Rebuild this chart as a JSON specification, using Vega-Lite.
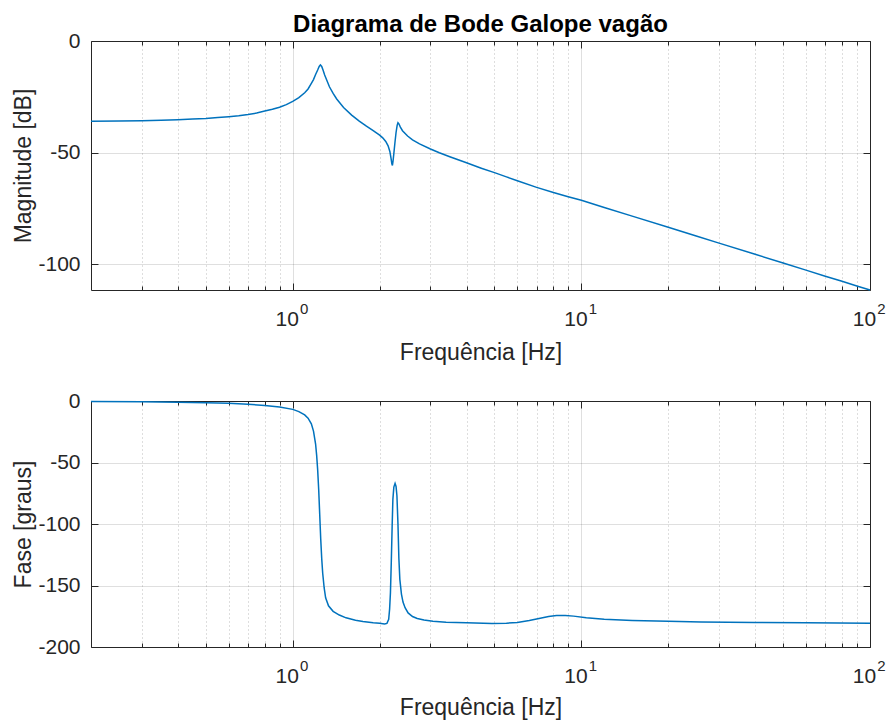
{
  "$schema": "https://vega.github.io/schema/vega-lite/v6.json",
  "padding": {"left": 12, "top": 12, "right": 5, "bottom": 5},
  "background": "#ffffff",
  "datasets": {
    "mag": [
      {"f": 0.2, "db": -36.0}, {"f": 0.25, "db": -35.85}, {"f": 0.3, "db": -35.7}, {"f": 0.35, "db": -35.5},
      {"f": 0.4, "db": -35.3}, {"f": 0.45, "db": -35.0}, {"f": 0.5, "db": -34.7}, {"f": 0.55, "db": -34.3},
      {"f": 0.6, "db": -33.9}, {"f": 0.65, "db": -33.45}, {"f": 0.7, "db": -32.9}, {"f": 0.75, "db": -32.3},
      {"f": 0.8, "db": -31.4}, {"f": 0.85, "db": -30.6}, {"f": 0.9, "db": -29.7}, {"f": 0.95, "db": -28.5},
      {"f": 1.0, "db": -27.1}, {"f": 1.05, "db": -25.4}, {"f": 1.1, "db": -23.2}, {"f": 1.13, "db": -21.5},
      {"f": 1.16, "db": -19.0}, {"f": 1.18, "db": -17.3}, {"f": 1.2, "db": -15.0}, {"f": 1.22, "db": -13.0},
      {"f": 1.235, "db": -11.4}, {"f": 1.247, "db": -10.7}, {"f": 1.26, "db": -11.4}, {"f": 1.275, "db": -13.2},
      {"f": 1.29, "db": -15.2}, {"f": 1.31, "db": -17.4}, {"f": 1.34, "db": -20.5}, {"f": 1.38, "db": -23.5},
      {"f": 1.42, "db": -26.0}, {"f": 1.5, "db": -29.8}, {"f": 1.6, "db": -33.2}, {"f": 1.7, "db": -35.9},
      {"f": 1.8, "db": -38.2}, {"f": 1.9, "db": -40.2}, {"f": 2.0, "db": -42.2}, {"f": 2.05, "db": -43.4},
      {"f": 2.1, "db": -45.0}, {"f": 2.14, "db": -47.0}, {"f": 2.17, "db": -49.5}, {"f": 2.19, "db": -52.5},
      {"f": 2.205, "db": -55.0}, {"f": 2.215, "db": -55.8}, {"f": 2.225, "db": -54.0}, {"f": 2.24, "db": -50.5},
      {"f": 2.26, "db": -45.5}, {"f": 2.28, "db": -41.0}, {"f": 2.3, "db": -37.8}, {"f": 2.315, "db": -36.6},
      {"f": 2.33, "db": -37.0}, {"f": 2.36, "db": -38.6}, {"f": 2.4, "db": -40.2}, {"f": 2.5, "db": -42.6},
      {"f": 2.6, "db": -44.3}, {"f": 2.75, "db": -46.1}, {"f": 3.0, "db": -48.4}, {"f": 3.22, "db": -50.1},
      {"f": 3.5, "db": -51.9}, {"f": 4.0, "db": -54.6}, {"f": 4.5, "db": -57.0}, {"f": 5.0, "db": -59.0},
      {"f": 5.5, "db": -60.9}, {"f": 6.0, "db": -62.6}, {"f": 7.0, "db": -65.6}, {"f": 8.0, "db": -67.9},
      {"f": 9.0, "db": -69.8}, {"f": 10, "db": -71.4}, {"f": 12, "db": -74.6}, {"f": 15, "db": -78.5},
      {"f": 20, "db": -83.5}, {"f": 25, "db": -87.4}, {"f": 30, "db": -90.6}, {"f": 40, "db": -95.6},
      {"f": 50, "db": -99.5}, {"f": 60, "db": -102.7}, {"f": 70, "db": -105.4}, {"f": 80, "db": -107.7},
      {"f": 90, "db": -109.8}, {"f": 100, "db": -111.6}
    ],
    "phase": [
      {"f": 0.2, "deg": -0.4}, {"f": 0.3, "deg": -0.7}, {"f": 0.4, "deg": -1.0}, {"f": 0.5, "deg": -1.4},
      {"f": 0.6, "deg": -1.9}, {"f": 0.7, "deg": -2.6}, {"f": 0.8, "deg": -3.6}, {"f": 0.9, "deg": -4.9},
      {"f": 1.0, "deg": -6.8}, {"f": 1.05, "deg": -8.6}, {"f": 1.1, "deg": -11.3}, {"f": 1.13, "deg": -14.0},
      {"f": 1.16, "deg": -18.5}, {"f": 1.18, "deg": -24.5}, {"f": 1.2, "deg": -35}, {"f": 1.21, "deg": -44},
      {"f": 1.22, "deg": -56}, {"f": 1.23, "deg": -72}, {"f": 1.24, "deg": -92}, {"f": 1.25, "deg": -112},
      {"f": 1.26, "deg": -128}, {"f": 1.27, "deg": -140}, {"f": 1.285, "deg": -152}, {"f": 1.3, "deg": -160},
      {"f": 1.33, "deg": -166.5}, {"f": 1.38, "deg": -171}, {"f": 1.45, "deg": -174}, {"f": 1.53, "deg": -176.3},
      {"f": 1.65, "deg": -178.2}, {"f": 1.75, "deg": -179.3}, {"f": 1.9, "deg": -180.3}, {"f": 2.0, "deg": -180.7},
      {"f": 2.08, "deg": -181.2}, {"f": 2.12, "deg": -180.8}, {"f": 2.15, "deg": -177.5}, {"f": 2.166, "deg": -169},
      {"f": 2.18, "deg": -156}, {"f": 2.195, "deg": -131}, {"f": 2.21, "deg": -102}, {"f": 2.223, "deg": -80},
      {"f": 2.24, "deg": -70}, {"f": 2.262, "deg": -67}, {"f": 2.28, "deg": -69.5}, {"f": 2.296, "deg": -77},
      {"f": 2.315, "deg": -100}, {"f": 2.332, "deg": -128}, {"f": 2.35, "deg": -145}, {"f": 2.38, "deg": -157},
      {"f": 2.41, "deg": -163.5}, {"f": 2.45, "deg": -168}, {"f": 2.51, "deg": -172.3}, {"f": 2.6, "deg": -175.2},
      {"f": 2.7, "deg": -176.8}, {"f": 2.85, "deg": -178}, {"f": 3.06, "deg": -179}, {"f": 3.4, "deg": -179.8},
      {"f": 4.0, "deg": -180.3}, {"f": 4.9, "deg": -180.8}, {"f": 5.5, "deg": -180.6}, {"f": 6.0, "deg": -180.0},
      {"f": 6.6, "deg": -178.5}, {"f": 7.2, "deg": -176.6}, {"f": 7.7, "deg": -175.2}, {"f": 8.2, "deg": -174.4},
      {"f": 8.8, "deg": -174.3}, {"f": 9.4, "deg": -174.9}, {"f": 10.4, "deg": -176.2}, {"f": 12, "deg": -177.4},
      {"f": 15, "deg": -178.4}, {"f": 20, "deg": -179.1}, {"f": 26, "deg": -179.6}, {"f": 40, "deg": -180.0},
      {"f": 60, "deg": -180.3}, {"f": 100, "deg": -180.6}
    ]
  },
  "vconcat": [
    {
      "width": 779,
      "height": 249,
      "title": {"text": "Diagrama de Bode Galope vagão", "frame": "group", "anchor": "middle", "baseline": "alphabetic", "offset": -26, "fontSize": 24, "fontWeight": "bold", "font": "Liberation Sans", "color": "#000000"},
      "data": {"name": "mag"},
      "layer": [
        {
          "mark": {"type": "line", "color": "#0072BD", "strokeWidth": 1.5},
          "encoding": {
            "x": {"field": "f", "type": "quantitative", "scale": {"type": "log", "domain": [0.2, 100], "nice": false},
              "axis": {"orient": "bottom", "values": [0.3, 0.4, 0.5, 0.6, 0.7, 0.8, 0.9, 1, 2, 3, 4, 5, 6, 7, 8, 9, 10, 20, 30, 40, 50, 60, 70, 80, 90, 100],
                "labelExpr": "datum.value == 1 || datum.value == 10 || datum.value == 100 ? '10' : ''",
                "labelOffset": -6, "labelPadding": 25, "labelFlush": false, "labelOverlap": false,
                "grid": true,
                "gridDash": {"condition": {"test": "datum.value == 1 || datum.value == 10 || datum.value == 100", "value": []}, "value": [1, 3]},
                "gridOpacity": {"condition": {"test": "datum.value == 1 || datum.value == 10 || datum.value == 100", "value": 0.15}, "value": 0.3},
                "tickSize": {"condition": {"test": "datum.value == 1 || datum.value == 10 || datum.value == 100", "value": -7}, "value": -4},
                "title": "Frequência [Hz]", "titlePadding": 9}},
            "y": {"field": "db", "type": "quantitative", "scale": {"domain": [-111.6, 0], "nice": false, "zero": false},
              "axis": {"orient": "left", "values": [0, -50, -100], "labelExpr": "'' + datum.value", "grid": true, "gridOpacity": 0.15, "tickSize": -7, "labelPadding": 18,
                "title": "Magnitude [dB]", "titlePadding": 2}}
          }
        },
        {
          "mark": {"type": "line", "strokeOpacity": 0},
          "encoding": {
            "x": {"field": "f", "type": "quantitative", "scale": {"type": "log", "domain": [0.2, 100], "nice": false},
              "axis": {"orient": "top", "values": [0.3, 0.4, 0.5, 0.6, 0.7, 0.8, 0.9, 1, 2, 3, 4, 5, 6, 7, 8, 9, 10, 20, 30, 40, 50, 60, 70, 80, 90, 100],
                "labels": false, "grid": false, "title": null,
                "tickSize": {"condition": {"test": "datum.value == 1 || datum.value == 10 || datum.value == 100", "value": -7}, "value": -4}}},
            "y": {"field": "db", "type": "quantitative", "scale": {"domain": [-111.6, 0], "nice": false, "zero": false},
              "axis": {"orient": "right", "values": [0, -50, -100], "labels": false, "grid": false, "tickSize": -7, "title": null}}
          }
        },
        {
          "mark": {"type": "line", "strokeOpacity": 0},
          "encoding": {
            "x": {"field": "f", "type": "quantitative", "scale": {"type": "log", "domain": [0.2, 100], "nice": false},
              "axis": {"orient": "bottom", "values": [1, 10, 100],
                "labelExpr": "datum.value == 1 ? '0' : datum.value == 10 ? '1' : '2'",
                "labelFontSize": 15, "labelOffset": 11, "labelPadding": 11, "labelFlush": false, "labelOverlap": false,
                "ticks": false, "grid": false, "title": null}},
            "y": {"field": "db", "type": "quantitative", "scale": {"domain": [-111.6, 0], "nice": false, "zero": false}, "axis": null}
          }
        }
      ],
      "resolve": {"axis": {"x": "independent", "y": "independent"}}
    },
    {
      "width": 779,
      "height": 246,
      "data": {"name": "phase"},
      "layer": [
        {
          "mark": {"type": "line", "color": "#0072BD", "strokeWidth": 1.5},
          "encoding": {
            "x": {"field": "f", "type": "quantitative", "scale": {"type": "log", "domain": [0.2, 100], "nice": false},
              "axis": {"orient": "bottom", "values": [0.3, 0.4, 0.5, 0.6, 0.7, 0.8, 0.9, 1, 2, 3, 4, 5, 6, 7, 8, 9, 10, 20, 30, 40, 50, 60, 70, 80, 90, 100],
                "labelExpr": "datum.value == 1 || datum.value == 10 || datum.value == 100 ? '10' : ''",
                "labelOffset": -6, "labelPadding": 25, "labelFlush": false, "labelOverlap": false,
                "grid": true,
                "gridDash": {"condition": {"test": "datum.value == 1 || datum.value == 10 || datum.value == 100", "value": []}, "value": [1, 3]},
                "gridOpacity": {"condition": {"test": "datum.value == 1 || datum.value == 10 || datum.value == 100", "value": 0.15}, "value": 0.3},
                "tickSize": {"condition": {"test": "datum.value == 1 || datum.value == 10 || datum.value == 100", "value": -7}, "value": -4},
                "title": "Frequência [Hz]", "titlePadding": 7}},
            "y": {"field": "deg", "type": "quantitative", "scale": {"domain": [-200, 0], "nice": false, "zero": false},
              "axis": {"orient": "left", "values": [0, -50, -100, -150, -200], "labelExpr": "'' + datum.value", "grid": true, "gridOpacity": 0.15, "tickSize": -7, "labelPadding": 18,
                "title": "Fase [graus]", "titlePadding": 2}}
          }
        },
        {
          "mark": {"type": "line", "strokeOpacity": 0},
          "encoding": {
            "x": {"field": "f", "type": "quantitative", "scale": {"type": "log", "domain": [0.2, 100], "nice": false},
              "axis": {"orient": "top", "values": [0.3, 0.4, 0.5, 0.6, 0.7, 0.8, 0.9, 1, 2, 3, 4, 5, 6, 7, 8, 9, 10, 20, 30, 40, 50, 60, 70, 80, 90, 100],
                "labels": false, "grid": false, "title": null,
                "tickSize": {"condition": {"test": "datum.value == 1 || datum.value == 10 || datum.value == 100", "value": -7}, "value": -4}}},
            "y": {"field": "deg", "type": "quantitative", "scale": {"domain": [-200, 0], "nice": false, "zero": false},
              "axis": {"orient": "right", "values": [0, -50, -100, -150, -200], "labels": false, "grid": false, "tickSize": -7, "title": null}}
          }
        },
        {
          "mark": {"type": "line", "strokeOpacity": 0},
          "encoding": {
            "x": {"field": "f", "type": "quantitative", "scale": {"type": "log", "domain": [0.2, 100], "nice": false},
              "axis": {"orient": "bottom", "values": [1, 10, 100],
                "labelExpr": "datum.value == 1 ? '0' : datum.value == 10 ? '1' : '2'",
                "labelFontSize": 15, "labelOffset": 11, "labelPadding": 11, "labelFlush": false, "labelOverlap": false,
                "ticks": false, "grid": false, "title": null}},
            "y": {"field": "deg", "type": "quantitative", "scale": {"domain": [-200, 0], "nice": false, "zero": false}, "axis": null}
          }
        }
      ],
      "resolve": {"axis": {"x": "independent", "y": "independent"}}
    }
  ],
  "spacing": 111,
  "bounds": "flush",
  "config": {
    "view": {"stroke": "#262626", "strokeWidth": 1},
    "axis": {
      "domain": false,
      "labelFont": "Liberation Sans", "labelFontSize": 21, "labelColor": "#262626",
      "titleFont": "Liberation Sans", "titleFontSize": 23, "titleFontWeight": "normal", "titleColor": "#262626",
      "gridColor": "#262626", "gridWidth": 1,
      "tickColor": "#262626", "tickWidth": 1
    }
  }
}
